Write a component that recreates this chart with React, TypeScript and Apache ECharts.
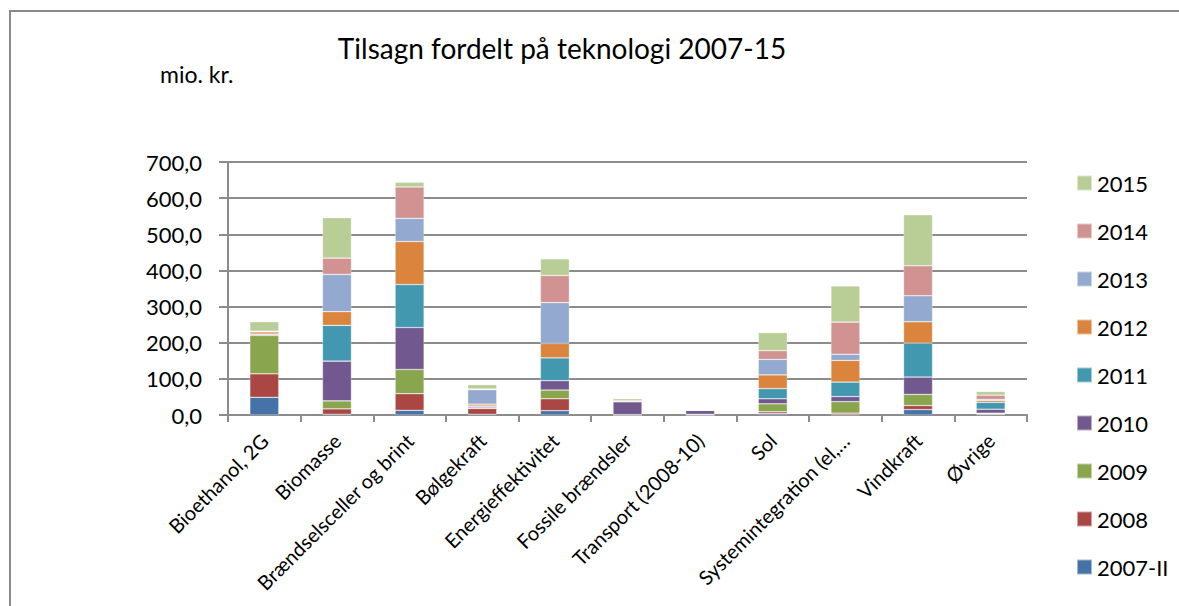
import React, { useEffect, useRef } from "react";
import * as echarts from "echarts";

const categories = [
  "Bioethanol, 2G",
  "Biomasse",
  "Brændselsceller og brint",
  "Bølgekraft",
  "Energieffektivitet",
  "Fossile brændsler",
  "Transport (2008-10)",
  "Sol",
  "Systemintegration (el,…",
  "Vindkraft",
  "Øvrige",
];

const seriesNames = ["2007-II", "2008", "2009", "2010", "2011", "2012", "2013", "2014", "2015"];

const v2007 = [49, 2, 13, 2, 12, 0, 0, 4, 1, 15, 2];
const v2008 = [65, 15, 46, 16, 33, 1, 1, 5, 4, 11, 1];
const v2009 = [106, 22, 67, 2, 24, 0, 1, 22, 32, 31, 2];
const v2010 = [3, 110, 116, 4, 26, 36, 11, 14, 14, 48, 11];
const v2011 = [1, 99, 119, 1, 63, 0, 0, 28, 40, 94, 19];
const v2012 = [6, 38, 119, 5, 40, 0, 0, 38, 60, 59, 5];
const v2013 = [1, 103, 64, 40, 113, 0, 0, 43, 17, 72, 3];
const v2014 = [1, 45, 87, 2, 75, 2, 0, 24, 89, 83, 12];
const v2015 = [26, 112, 13, 12, 46, 6, 1, 50, 100, 141, 10];

const seriesValues = [v2007, v2008, v2009, v2010, v2011, v2012, v2013, v2014, v2015];

const colors = ["#4572A7", "#AA4643", "#89A54E", "#71588F", "#4198AF", "#DB843D", "#93A9CF", "#D19392", "#B9CD96"];

const yTicks = { min: 0, max: 700, interval: 100 };

const FONT = "Lato";

export default function App() {
  const ref = useRef<HTMLDivElement>(null);
  useEffect(() => {
    if (!ref.current) return;
    const chart = echarts.init(ref.current, null, { renderer: "svg" });
    chart.setOption({
      animation: false,
      backgroundColor: "#ffffff",
      textStyle: { fontFamily: FONT, color: "#000" },
      title: {
        text: "Tilsagn fordelt på teknologi 2007-15",
        left: 557,
        top: 29,
        textAlign: "center",
        textStyle: { fontFamily: FONT, fontSize: 28, fontWeight: "normal", color: "#000" },
      },
      graphic: [
        {
          type: "rect",
          shape: { x: 10, y: 11, width: 1400, height: 900 },
          style: { fill: "none", stroke: "#8a8a8a", lineWidth: 2 },
          silent: true,
        },
        {
          type: "text",
          left: 160,
          top: 62,
          style: { text: "mio. kr.", fontFamily: FONT, fontSize: 23, fill: "#000" },
        },
      ],
      legend: {
        orient: "vertical",
        left: 1071,
        top: 167,
        itemWidth: 15,
        itemHeight: 15,
        itemGap: 26,
        icon: "rect",
        data: [...seriesNames].reverse(),
        textStyle: { fontFamily: FONT, fontSize: 22, color: "#000", lineHeight: 22 },
      },
      grid: { left: 228, top: 162, width: 799, height: 253 },
      xAxis: {
        type: "category",
        data: categories,
        axisLine: { lineStyle: { color: "#8c8c8c", width: 2 } },
        axisTick: { show: true, length: 7, alignWithLabel: false, lineStyle: { color: "#8c8c8c", width: 2 } },
        axisLabel: { interval: 0, rotate: 45, margin: 22, fontFamily: FONT, fontSize: 20, color: "#000" },
      },
      yAxis: {
        type: "value",
        min: yTicks.min,
        max: yTicks.max,
        interval: yTicks.interval,
        axisLine: { show: true, lineStyle: { color: "#8c8c8c", width: 2 } },
        axisTick: { show: true, inside: false, length: 9, lineStyle: { color: "#8c8c8c", width: 2 } },
        splitLine: { show: true, lineStyle: { color: "#8c8c8c", width: 2 } },
        axisLabel: {
          margin: 26,
          fontFamily: FONT,
          fontSize: 22,
          color: "#000",
          formatter: (v: number) => v.toFixed(1).replace(".", ","),
        },
      },
      series: seriesNames.map((name, i) => ({
        name,
        type: "bar",
        stack: "total",
        barWidth: 29,
        data: seriesValues[i],
        itemStyle: { color: colors[i], borderColor: "rgba(255,255,255,0.5)", borderWidth: 0.6 },
      })),
    });
    return () => chart.dispose();
  }, []);
  return <div ref={ref} style={{ position: "fixed", left: 0, top: 0, width: 1179, height: 606 }} />;
}
